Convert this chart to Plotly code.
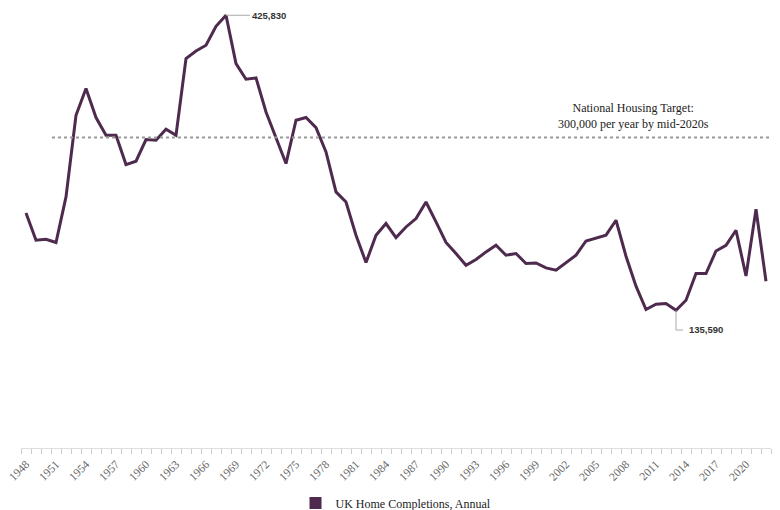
import plotly.graph_objects as go

years = list(range(1948, 2023))
completions = [
    231300, 204450, 205400, 202200, 247050, 327400, 353700, 325200, 307750, 307750,
    278900, 282200, 303500, 302850, 313650, 307750, 383200, 390700, 396300, 415000,
    425830, 378300, 362850, 364150, 330700, 305100, 279900, 322500, 325200, 315300,
    291300, 252000, 242100, 209400, 182500, 209400, 220900, 207100, 217500, 225800,
    242100, 222450, 202200, 191350, 179850, 185450, 192950, 199500, 189700, 191350,
    181500, 182100, 177200, 174950, 182100, 189700, 203750, 206700, 209400, 224100,
    188700, 159200, 136300, 141500, 142150, 135590, 145400, 171700, 171700, 193900,
    199500, 214300, 169300, 234950, 164100,
]
tick_years = list(range(1948, 2021, 3))
tick_labels = [str(y) for y in tick_years]
series_name = "UK Home Completions, Annual"
target_value = 305500
target_text = "National Housing Target:<br>300,000 per year by mid-2020s"
peak_year, peak_value = 1968, 425830
min_year, min_value = 2013, 135590

LINE_COLOR = "#4e2a4e"
SERIF = "Liberation Serif, Times New Roman, serif"
LABEL_FONT = dict(family="Liberation Sans, Arial, sans-serif", size=9.5, color="#333")

fig = go.Figure()
fig.add_trace(go.Scatter(
    x=years, y=completions, mode="lines",
    line=dict(color=LINE_COLOR, width=3),
    showlegend=False, hoverinfo="skip",
))
fig.add_trace(go.Scatter(
    x=[None], y=[None], mode="markers", name=series_name,
    marker=dict(symbol="square", size=10, color=LINE_COLOR),
))

# target dotted line
fig.add_shape(type="line", xref="x", yref="y",
              x0=1950.6, x1=2023.4, y0=target_value, y1=target_value,
              line=dict(color="#999999", width=2, dash="dot"))
fig.add_annotation(x=2008.7, y=target_value, xref="x", yref="y",
                   text=target_text, showarrow=False, yanchor="bottom", yshift=5,
                   font=dict(family=SERIF, size=12, color="#222"), align="center")

# peak label
fig.add_annotation(x=peak_year, y=peak_value, xref="x", yref="y",
                   text=f"<b>{peak_value:,}</b>", showarrow=True, arrowhead=0,
                   arrowwidth=1, arrowcolor="#aaaaaa", ax=24, ay=0,
                   xanchor="left", font=LABEL_FONT)
# min label leader (elbow)
fig.add_shape(type="path", xref="x", yref="y",
              path=f"M {min_year},{min_value} L {min_year},{min_value-19500} L {min_year+0.7},{min_value-19500}",
              line=dict(color="#aaaaaa", width=1))
fig.add_annotation(x=min_year + 1.1, y=min_value - 19000, xref="x", yref="y",
                   text=f"<b>{min_value:,}</b>", showarrow=False, xanchor="left",
                   font=LABEL_FONT)

# page body has an 8px default margin, so the figure is sized to fit the window
fig.update_layout(
    width=772, height=502,
    margin=dict(l=13, r=9, t=2, b=62, autoexpand=False),
    paper_bgcolor="white", plot_bgcolor="white",
    font=dict(family=SERIF),
    legend=dict(orientation="h", x=0.5, xanchor="center",
                yref="container", y=0.014, yanchor="middle",
                font=dict(family=SERIF, size=12, color="#222"),
                itemsizing="constant"),
    xaxis=dict(
        range=[1947.5, 2022.5], tickmode="array", tickvals=tick_years, ticktext=tick_labels,
        tickangle=-45, ticks="outside", ticklen=4, tickcolor="rgba(0,0,0,0)",
        tickfont=dict(family=SERIF, size=11.5, color="#666"), automargin=False,
        ticklabeloverflow="allow",
        showgrid=False, zeroline=False, showline=True, linecolor="#dddddd", linewidth=1,
        minor=dict(tickvals=[y + 0.5 for y in range(1947, 2023)], ticks="outside",
                   ticklen=5, tickcolor="#cccccc", showgrid=False),
    ),
    yaxis=dict(range=[0, 431000], showticklabels=False, showgrid=False,
               zeroline=False, showline=False, ticks="", automargin=False),
)

fig.write_html("out.html")
